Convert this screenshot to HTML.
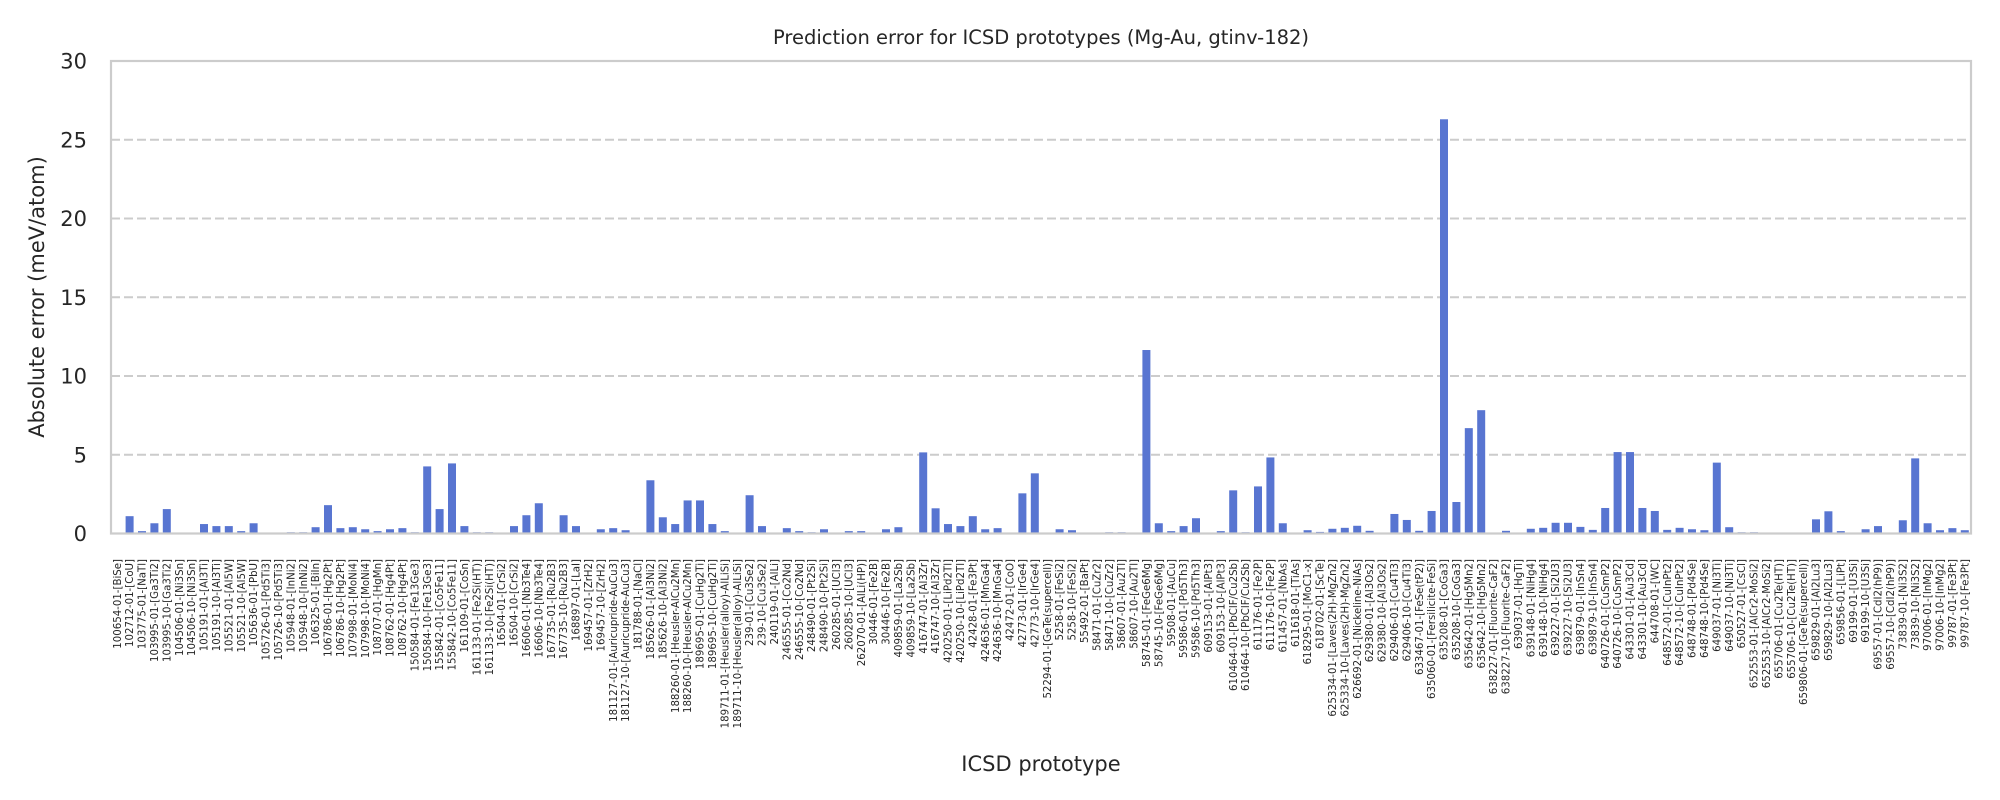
<!DOCTYPE html>
<html><head><meta charset="utf-8"><style>
html,body{margin:0;padding:0;background:#fff;}
svg{display:block;font-family:"DejaVu Sans","Liberation Sans",sans-serif;}
</style></head><body>
<svg id="chart" width="2000" height="800" viewBox="0 0 2000 800">
<text x="1041" y="44" text-anchor="middle" font-size="19.5" fill="#262626">Prediction error for ICSD prototypes (Mg-Au, gtinv-182)</text>
<text transform="translate(44,297) rotate(-90)" text-anchor="middle" font-size="21" fill="#262626">Absolute error (meV/atom)</text>
<text x="1041" y="771" text-anchor="middle" font-size="21" fill="#262626">ICSD prototype</text>
<g id="grid"></g><g id="bars"></g><g id="yticks"></g><g id="xticks"></g>
<rect x="111" y="61" width="1860" height="472.5" fill="none" stroke="#cccccc" stroke-width="2.2"/>
</svg>
<script>
const categories = ["100654-01-[BiSe]","102712-01-[CoU]","103775-01-[NaTl]","103995-01-[Ga3Ti2]","103995-10-[Ga3Ti2]","104506-01-[Ni3Sn]","104506-10-[Ni3Sn]","105191-01-[Al3Ti]","105191-10-[Al3Ti]","105521-01-[Al5W]","105521-10-[Al5W]","105636-01-[PbU]","105726-01-[Pd5Ti3]","105726-10-[Pd5Ti3]","105948-01-[InNi2]","105948-10-[InNi2]","106325-01-[BiIn]","106786-01-[Hg2Pt]","106786-10-[Hg2Pt]","107998-01-[MoNi4]","107998-10-[MoNi4]","108707-01-[HgMn]","108762-01-[Hg4Pt]","108762-10-[Hg4Pt]","150584-01-[Fe13Ge3]","150584-10-[Fe13Ge3]","155842-01-[Co5Fe11]","155842-10-[Co5Fe11]","161109-01-[CoSn]","161133-01-[Fe2Si(HT)]","161133-10-[Fe2Si(HT)]","16504-01-[CrSi2]","16504-10-[CrSi2]","16606-01-[Nb3Te4]","16606-10-[Nb3Te4]","167735-01-[Ru2B3]","167735-10-[Ru2B3]","168897-01-[LaI]","169457-01-[ZrH2]","169457-10-[ZrH2]","181127-01-[Auricupride-AuCu3]","181127-10-[Auricupride-AuCu3]","181788-01-[NaCl]","185626-01-[Al3Ni2]","185626-10-[Al3Ni2]","188260-01-[Heusler-AlCu2Mn]","188260-10-[Heusler-AlCu2Mn]","189695-01-[CuHg2Ti]","189695-10-[CuHg2Ti]","189711-01-[Heusler(alloy)-AlLiSi]","189711-10-[Heusler(alloy)-AlLiSi]","239-01-[Cu3Se2]","239-10-[Cu3Se2]","240119-01-[AlLi]","246555-01-[Co2Nd]","246555-10-[Co2Nd]","248490-01-[Pt2Si]","248490-10-[Pt2Si]","260285-01-[UCl3]","260285-10-[UCl3]","262070-01-[AlLi(HP)]","30446-01-[Fe2B]","30446-10-[Fe2B]","409859-01-[La2Sb]","409859-10-[La2Sb]","416747-01-[Al3Zr]","416747-10-[Al3Zr]","420250-01-[LiPd2Tl]","420250-10-[LiPd2Tl]","42428-01-[Fe3Pt]","424636-01-[MnGa4]","424636-10-[MnGa4]","42472-01-[CoO]","42773-01-[IrGe4]","42773-10-[IrGe4]","52294-01-[GeTe(supercell)]","5258-01-[FeSi2]","5258-10-[FeSi2]","55492-01-[BaPt]","58471-01-[CuZr2]","58471-10-[CuZr2]","58607-01-[Au2Tl]","58607-10-[Au2Tl]","58745-01-[FeGe6Mg]","58745-10-[FeGe6Mg]","59508-01-[AuCu]","59586-01-[Pd5Th3]","59586-10-[Pd5Th3]","609153-01-[AlPt3]","609153-10-[AlPt3]","610464-01-[PbClF/Cu2Sb]","610464-10-[PbClF/Cu2Sb]","611176-01-[Fe2P]","611176-10-[Fe2P]","611457-01-[NbAs]","611618-01-[TiAs]","618295-01-[MoC1-x]","618702-01-[ScTe]","625334-01-[Laves(2H)-MgZn2]","625334-10-[Laves(2H)-MgZn2]","626692-01-[Nickeline-NiAs]","629380-01-[Al3Os2]","629380-10-[Al3Os2]","629406-01-[Cu4Ti3]","629406-10-[Cu4Ti3]","633467-01-[FeSe(tP2)]","635060-01-[Fersilicite-FeSi]","635208-01-[CoGa3]","635208-10-[CoGa3]","635642-01-[Hg5Mn2]","635642-10-[Hg5Mn2]","638227-01-[Fluorite-CaF2]","638227-10-[Fluorite-CaF2]","639037-01-[HgTi]","639148-01-[NiHg4]","639148-10-[NiHg4]","639227-01-[Si2U3]","639227-10-[Si2U3]","639879-01-[InSn4]","639879-10-[InSn4]","640726-01-[CuSmP2]","640726-10-[CuSmP2]","643301-01-[Au3Cd]","643301-10-[Au3Cd]","644708-01-[WC]","648572-01-[CuInPt2]","648572-10-[CuInPt2]","648748-01-[Pd4Se]","648748-10-[Pd4Se]","649037-01-[Ni3Ti]","649037-10-[Ni3Ti]","650527-01-[CsCl]","652553-01-[AlCr2-MoSi2]","652553-10-[AlCr2-MoSi2]","655706-01-[Cu2Te(HT)]","655706-10-[Cu2Te(HT)]","659806-01-[GeTe(supercell)]","659829-01-[Al2Lu3]","659829-10-[Al2Lu3]","659856-01-[LiPt]","69199-01-[U3Si]","69199-10-[U3Si]","69557-01-[CdI2(hP9)]","69557-10-[CdI2(hP9)]","73839-01-[Ni3S2]","73839-10-[Ni3S2]","97006-01-[InMg2]","97006-10-[InMg2]","99787-01-[Fe3Pt]","99787-10-[Fe3Pt]"];
const errorValues = [0,1.1,0.15,0.65,1.55,0.03,0,0.6,0.47,0.47,0.15,0.65,0,0,0.08,0.08,0.4,1.8,0.34,0.4,0.27,0.15,0.27,0.34,0.08,4.26,1.55,4.45,0.47,0.08,0.08,0,0.47,1.16,1.92,0,1.16,0.47,0,0.27,0.34,0.21,0,3.38,1.03,0.6,2.1,2.1,0.6,0.15,0,2.43,0.47,0,0.34,0.15,0.08,0.27,0,0.15,0.15,0,0.27,0.4,0,5.15,1.6,0.6,0.47,1.1,0.27,0.34,0,2.55,3.82,0,0.27,0.21,0,0,0.08,0.08,0,11.65,0.65,0.15,0.47,0.97,0,0.15,2.74,0.08,2.99,4.83,0.65,0,0.21,0.1,0.3,0.36,0.49,0.17,0,1.24,0.86,0.17,1.43,26.3,2.0,6.69,7.83,0,0.17,0,0.3,0.36,0.68,0.68,0.42,0.23,1.62,5.17,5.17,1.62,1.43,0.23,0.36,0.27,0.21,4.5,0.4,0.08,0.08,0,0,0,0,0.9,1.41,0.15,0,0.27,0.47,0,0.84,4.77,0.65,0.21,0.34,0.21];
const yTickValues = [0,5,10,15,20,25,30];

const NS = "http://www.w3.org/2000/svg";
const X0 = 111, X1 = 1971, Y0 = 533.5, Y1 = 61, YMAX = 30;
const step = (X1 - X0) / categories.length;
function xScale(i){ return X0 + (i + 0.5) * step; }
function yScale(v){ return Y0 - (v / YMAX) * (Y0 - Y1); }
function mk(tag, attrs){ const e = document.createElementNS(NS, tag); for (const k in attrs) e.setAttribute(k, attrs[k]); return e; }

const grid = document.getElementById('grid');
const yt = document.getElementById('yticks');
yTickValues.forEach(v => {
  const y = yScale(v);
  if (v > 0 && v < YMAX) {
    const l = mk('line', {x1: X0, x2: X1, y1: y, y2: y, stroke: '#cccccc', 'stroke-width': 2, 'stroke-dasharray': '9,4'});
    
    
    grid.appendChild(l);
  }
  const t = mk('text', {x: 87, y: y + 7.5, 'text-anchor': 'end', 'font-size': 21, fill: '#262626'});
  t.textContent = v;
  
  
  yt.appendChild(t);
});

const bars = document.getElementById('bars');
const xt = document.getElementById('xticks');
const bw = 8;
errorValues.forEach((v, i) => {
  const cx = xScale(i), top = yScale(v);
  const r = mk('rect', {x: cx - bw/2, y: top, width: bw, height: Math.max(0, Y0 - top), fill: '#5875d1'});
  
  
  bars.appendChild(r);
});
categories.forEach((c, i) => {
  const cx = xScale(i);
  const t = mk('text', {transform: 'translate(' + (cx + 3.6) + ',559) rotate(-90)', 'text-anchor': 'end', 'font-size': 10.2, fill: '#262626'});
  t.textContent = c;
  
  
  xt.appendChild(t);
});
</script>
</body></html>
